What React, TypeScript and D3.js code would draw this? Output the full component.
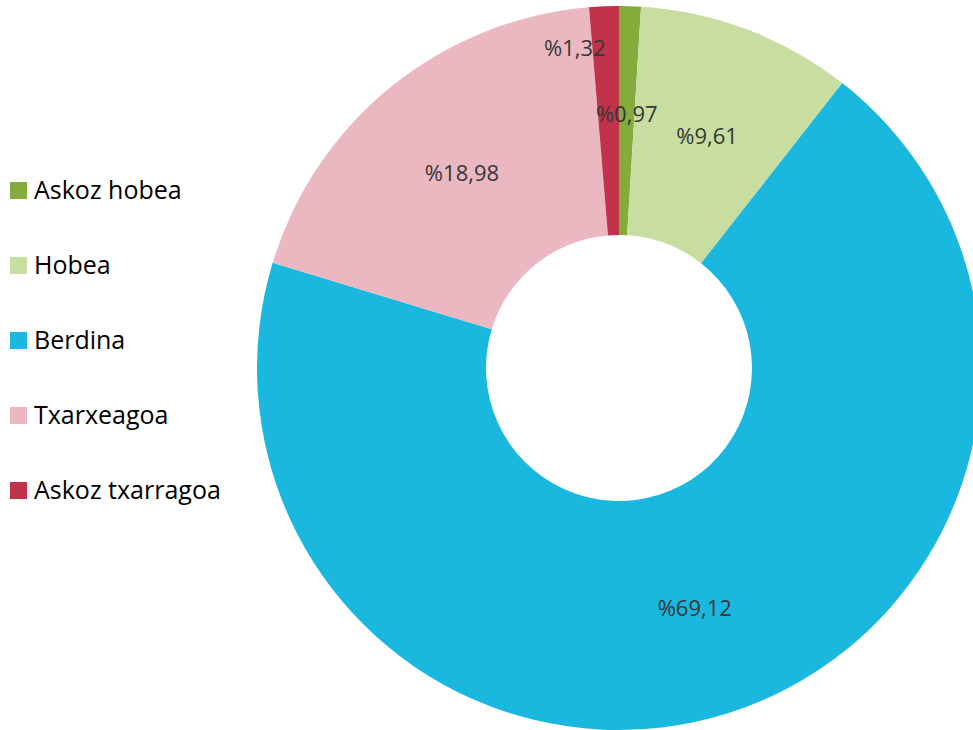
import React, { useEffect, useRef } from "react";
import * as d3 from "d3";

const categories = ["Askoz hobea", "Hobea", "Berdina", "Txarxeagoa", "Askoz txarragoa"];
const values = [0.97, 9.61, 69.12, 18.98, 1.32];
const labels = ["%0,97", "%9,61", "%69,12", "%18,98", "%1,32"];
const colors = ["#84ac3c", "#c8dea0", "#1ab8de", "#ebb8c2", "#c0334a"];
// label radius per slice (small slices pushed in/out like Excel's best fit)
const labelRadius = [254, 248, 252, 250, 320];
const labelAnchor = ["middle", "middle", "middle", "middle", "end"];

export default function App() {
  const ref = useRef<SVGSVGElement>(null);

  useEffect(() => {
    const width = 973;
    const height = 730;
    const cx = 619;
    const cy = 368;
    const outerR = 362;
    const innerR = 133;
    const font = "'Segoe UI', 'Open Sans', 'Noto Sans', sans-serif";

    const svg = d3.select(ref.current);
    svg.selectAll("*").remove();
    svg.attr("width", width).attr("height", height);

    const data = categories.map((c, i) => ({ c, v: values[i], i }));
    const pie = d3.pie<any>().sort(null).value((d) => d.v);
    const arcs = pie(data);
    const arc = d3.arc<any>().innerRadius(innerR).outerRadius(outerR);

    const g = svg.append("g").attr("transform", `translate(${cx},${cy})`);
    g.selectAll("path")
      .data(arcs)
      .enter()
      .append("path")
      .attr("d", arc)
      .attr("fill", (d) => colors[d.data.i]);

    g.selectAll("text")
      .data(arcs)
      .enter()
      .append("text")
      .attr("transform", (d) => {
        const r = labelRadius[d.data.i];
        const a = (d.startAngle + d.endAngle) / 2;
        return `translate(${r * Math.sin(a)},${-r * Math.cos(a)})`;
      })
      .attr("text-anchor", (d) => labelAnchor[d.data.i])
      .attr("dy", "0.35em")
      .attr("font-family", font)
      .attr("font-size", 22)
      .attr("fill", "#363636")
      .text((d) => labels[d.data.i]);

    const legendY = d3.scalePoint().domain(categories).range([190, 490]);
    const leg = svg
      .selectAll("g.leg")
      .data(categories)
      .enter()
      .append("g")
      .attr("class", "leg")
      .attr("transform", (d) => `translate(10,${legendY(d)})`);
    leg
      .append("rect")
      .attr("x", 0)
      .attr("y", -8)
      .attr("width", 17)
      .attr("height", 17)
      .attr("fill", (d, i) => colors[i]);
    leg
      .append("text")
      .attr("x", 24)
      .attr("dy", "0.35em")
      .attr("font-family", font)
      .attr("font-size", 25)
      .attr("fill", "#000")
      .text((d) => d);
  }, []);

  return (
    <div style={{ position: "absolute", left: 0, top: 0 }}>
      <svg ref={ref} style={{ display: "block" }} />
    </div>
  );
}
